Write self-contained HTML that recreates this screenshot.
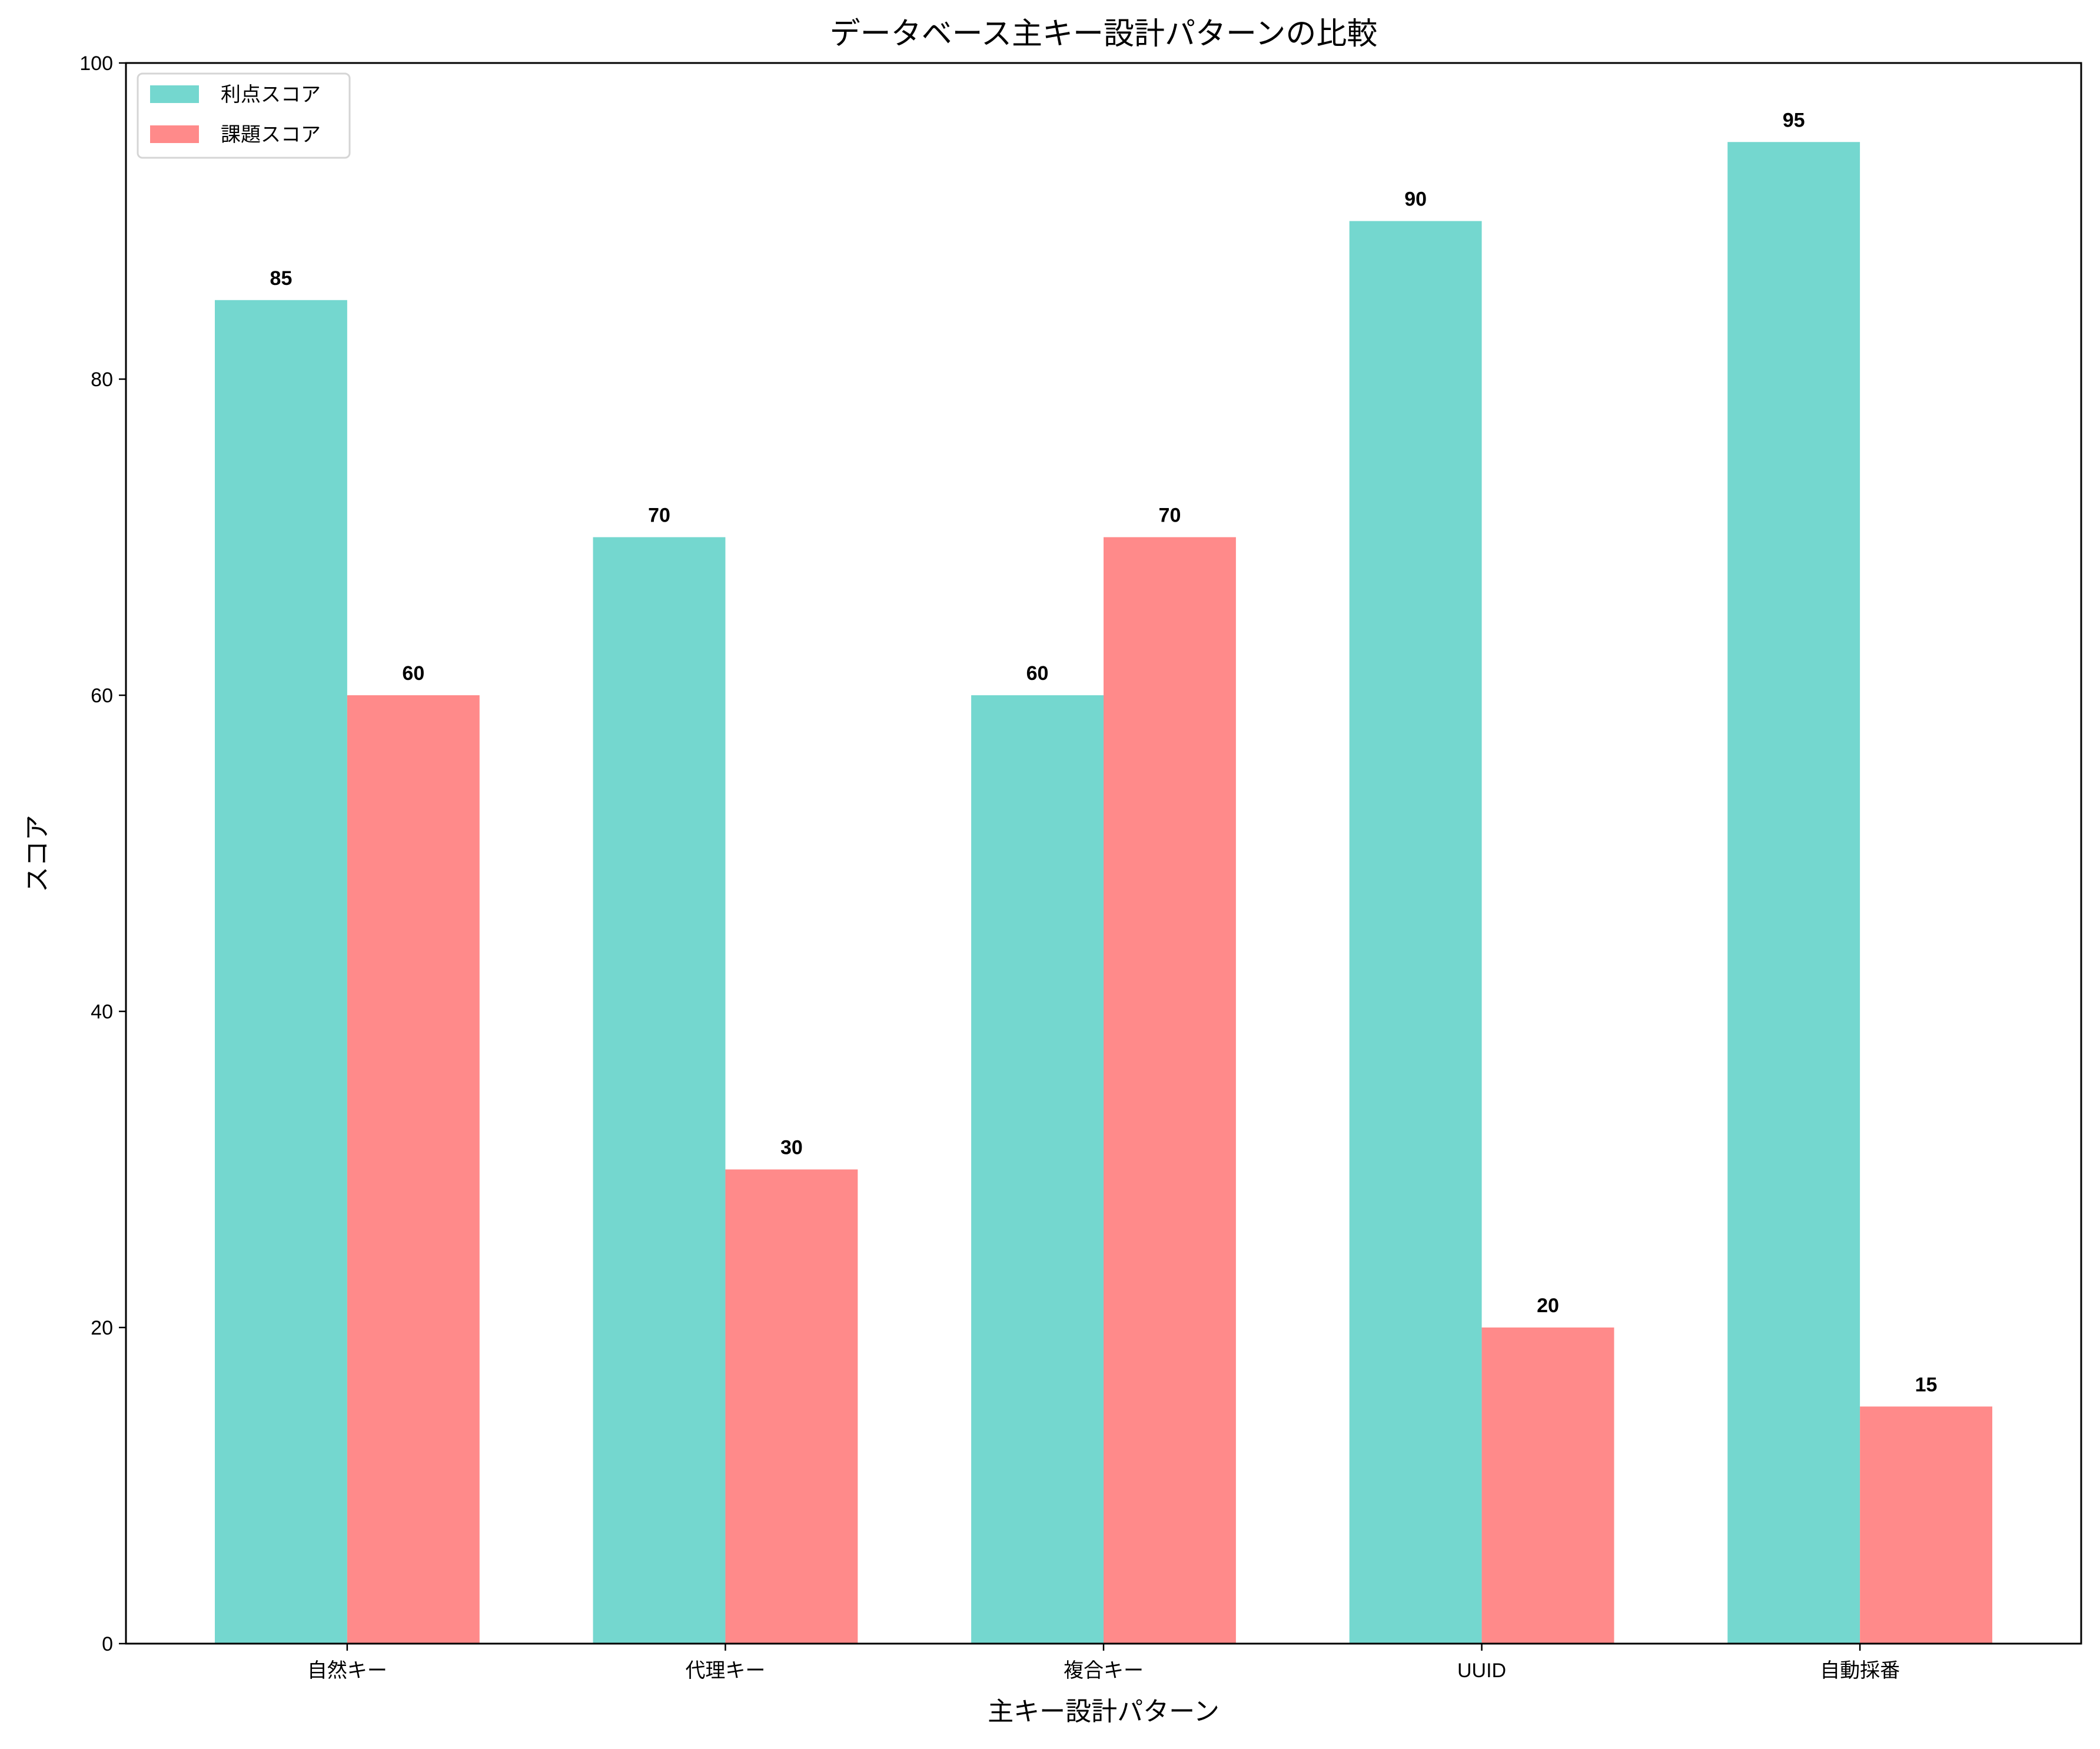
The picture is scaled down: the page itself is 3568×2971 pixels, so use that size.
<!DOCTYPE html>
<html><head><meta charset="utf-8"><style>
html,body{margin:0;padding:0;background:#fff;}
svg{display:block;font-family:"Liberation Sans","DejaVu Sans","Noto Sans CJK JP",sans-serif;}
</style></head><body>
<svg id="chart" width="3568" height="2971" viewBox="0 0 3568 2971" xmlns="http://www.w3.org/2000/svg">
<rect width="3568" height="2971" fill="#fff"/>
<text x="1875" y="75" font-size="52" text-anchor="middle">データベース主キー設計パターンの比較</text>
<g id="bars"></g>
<g id="ticks"></g>
<rect x="214" y="107" width="3322" height="2685" fill="none" stroke="#000" stroke-width="3"/>
<text x="1875" y="2922" font-size="44" text-anchor="middle">主キー設計パターン</text>
<text x="78" y="1450" font-size="44" text-anchor="middle" transform="rotate(-90 78 1450)" dy="0">スコア</text>
<g>
<rect x="234" y="125" width="360" height="143" rx="8" fill="#fff" stroke="#d5d5d5" stroke-width="3" fill-opacity="0.8"/>
<rect x="255" y="145" width="83" height="30" fill="#74d7cf"/>
<text x="375" y="172" font-size="34">利点スコア</text>
<rect x="255" y="213" width="83" height="30" fill="#ff8a8a"/>
<text x="375" y="240" font-size="34">課題スコア</text>
</g>
</svg>
<script>
const categories = ["自然キー","代理キー","複合キー","UUID","自動採番"];
const benefitScores = [85,70,60,90,95];
const issueScores = [60,30,70,20,15];
const yTicks = [0,20,40,60,80,100];

const NS="http://www.w3.org/2000/svg";
const L=214,R=3536,T=107,B=2792;
const xMin=-0.585,xMax=categories.length-1+0.585;
const yMin=0,yMax=100;
function xs(v){return L+(v-xMin)/(xMax-xMin)*(R-L);}
function ys(v){return B-(v-yMin)/(yMax-yMin)*(B-T);}
const bw=0.35;
const bars=document.getElementById('bars');
const ticks=document.getElementById('ticks');
function mk(tag,attrs,parent){const e=document.createElementNS(NS,tag);for(const k in attrs)e.setAttribute(k,attrs[k]);parent.appendChild(e);return e;}
function drawSeries(vals,off,color,name){
  vals.forEach((v,i)=>{
    const x0=xs(i+off-bw/2),x1=xs(i+off+bw/2);
    const r=mk('rect',{x:x0,y:ys(v),width:x1-x0,height:ys(0)-ys(v),fill:color},bars);
    
    
    const t=mk('text',{x:(x0+x1)/2,y:ys(v)-26,'font-size':34,'font-weight':'bold','text-anchor':'middle'},bars);
    t.textContent=v;
    
    
  });
}
drawSeries(benefitScores,-bw/2,'#74d7cf','benefit');
drawSeries(issueScores,bw/2,'#ff8a8a','issue');
categories.forEach((c,i)=>{
  const x=xs(i);
  const l=mk('line',{x1:x,x2:x,y1:B,y2:B+12,stroke:'#000','stroke-width':2.5},ticks);
  
  
  const t=mk('text',{x:x,y:B+57,'font-size':34,'text-anchor':'middle'},ticks);
  t.textContent=c;
  
  
});
yTicks.forEach(v=>{
  const y=ys(v);
  const l=mk('line',{x1:L-12,x2:L,y1:y,y2:y,stroke:'#000','stroke-width':2.5},ticks);
  
  
  const t=mk('text',{x:L-22,y:y+12,'font-size':34,'text-anchor':'end'},ticks);
  t.textContent=v;
  
  
});
</script>
</body></html>
